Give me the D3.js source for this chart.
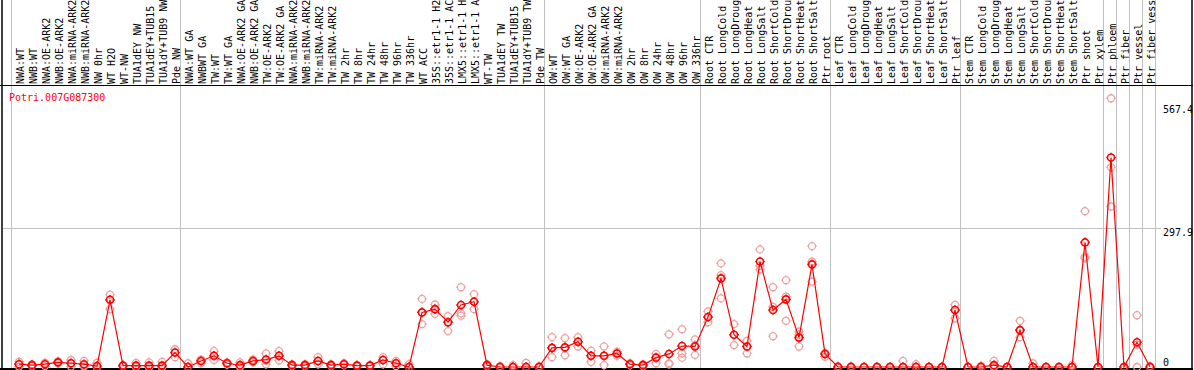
<!DOCTYPE html>
<html><head><meta charset="utf-8">
<script src="https://cdn.jsdelivr.net/npm/d3@7"></script>
<style>
html,body{margin:0;padding:0;background:#fff;}
svg{display:block;}
text{font-family:"DejaVu Sans Mono",monospace;font-size:10px;}
</style></head>
<body>
<svg id="chart" width="1194" height="370"></svg>
<script>
const categories = [
 "NWA:WT","NWB:WT","NWA:OE-ARK2","NWB:OE-ARK2","NWA:miRNA-ARK2","NWB:miRNA-ARK2","NW 0hr","WT H2O","WT-NW","TUA1dEY NW","TUA1dEY+TUB15","TUA1dY+TUB9 NW","Pde NW",
 "NWA:WT GA","NWBWT GA","TW:WT","TW:WT GA","NWA:OE-ARK2 GA","NWB:OE-ARK2 GA","TW:OE-ARK2","TW:OE-ARK2 GA","NWA:miRNA-ARK2","NWB:miRNA-ARK2","TW:miRNA-ARK2","TW:miRNA-ARK2","TW 2hr","TW 8hr","TW 24hr","TW 48hr","TW 96hr","TW 336hr","WT ACC","35S::etr1-1 H2","35S::etr1-1 AC","LMX5::etr1-1 H","LMX5::etr1-1 A","WT-TW","TUA1dEY TW","TUA1dEY+TUB15","TUA1dY+TUB9 TW","Pde TW",
 "OW:WT","OW:WT GA","OW:OE-ARK2","OW:OE-ARK2 GA","OW:miRNA-ARK2","OW:miRNA-ARK2","OW 2hr","OW 8hr","OW 24hr","OW 48hr","OW 96hr","OW 336hr",
 "Root CTR","Root LongCold","Root LongDroug","Root LongHeat","Root LongSalt","Root ShortCold","Root ShortDrou","Root ShortHeat","Root ShortSalt","Ptr root",
 "Leaf CTR","Leaf LongCold","Leaf LongDroug","Leaf LongHeat","Leaf LongSalt","Leaf ShortCold","Leaf ShortDrou","Leaf ShortHeat","Leaf ShortSalt","Ptr leaf",
 "Stem CTR","Stem LongCold","Stem LongDroug","Stem LongHeat","Stem LongSalt","Stem ShortCold","Stem ShortDrou","Stem ShortHeat","Stem ShortSalt","Ptr shoot","Ptr xylem",
 "Ptr phloem","Ptr fiber","Ptr vessel","Ptr fiber vess"
];
const meanValues = [
 6,4,6,10,8,6,2,144,3,3,3,3,31,
 0,13,24,8,4,13,16,24,4,4,13,4,6,3,3,15,8,0,117,124,96,133,140,4,0,0,0,0,
 41,42,54,24,24,29,6,4,20,28,45,44,
 107,190,69,44,226,122,145,63,220,28,
 0,0,0,0,0,0,0,0,0,122,
 0,0,4,0,79,0,0,0,0,267,0,
 449,0,53,0
];
const rep1 = [
 11,6,9,12,15,13,9,155,4,9,10,11,38,
 8,16,34,10,10,16,29,34,6,6,21,6,8,4,4,21,13,6,146,134,109,171,156,6,2,4,9,2,
 64,62,64,35,44,33,8,6,28,70,81,59,
 119,222,92,56,252,171,186,76,259,30,
 2,2,0,0,0,13,6,0,0,133,
 0,3,13,0,99,8,0,0,4,334,0,
 576,0,111,2
];
const rep2 = [
 6,3,6,10,8,4,0,144,3,1,0,0,31,
 0,13,24,8,2,13,14,24,4,4,13,4,6,3,3,15,8,0,117,124,96,115,140,4,0,0,0,0,
 41,42,54,24,24,29,6,4,20,8,29,47,
 107,197,69,44,217,129,151,69,226,28,
 0,0,0,0,0,0,0,0,0,122,
 0,0,2,0,79,0,0,0,0,236,0,
 428,0,48,0
];
const rep3 = [
 1,2,2,8,1,1,0,124,2,0,0,0,21,
 0,8,15,5,0,10,6,14,2,2,6,2,4,2,2,6,2,0,92,114,77,110,124,2,0,0,0,0,
 21,25,44,11,4,24,4,2,8,6,20,26,
 96,147,47,29,209,66,99,44,183,22,
 0,0,0,0,0,0,0,0,0,104,
 0,0,0,0,64,0,0,0,0,233,0,
 344,0,0,0
];
const yTickValues = [0, 297.9, 567.4];
const groupStarts = [0, 13, 41, 53, 63, 73, 84, 85, 86, 87, 88];
const geneLabel = "Potri.007G087300";

const svg = d3.select("#chart");
const W = 1194, H = 370;
const plotTop = 85.5, plotBottom = 369;

const x = d3.scaleBand().domain(d3.range(categories.length)).range([10.5, 10.5 + 13 * categories.length]).paddingInner(0).paddingOuter(0);
const bw = x.bandwidth();
const boundary = k => k < categories.length ? x(k) : x(categories.length - 1) + bw;
const cx = i => x(i) + 8.5;
const y = d3.scaleLinear().domain([0, 567.4]).range([367, 367 - 567.4 * 139 / 297.9]);

// vertical group lines (full height)
svg.append("g").selectAll("line").data(groupStarts).join("line")
  .attr("x1", k => Math.round(boundary(k)) + 0.5).attr("x2", k => Math.round(boundary(k)) + 0.5)
  .attr("y1", 0).attr("y2", plotBottom)
  .attr("stroke", "#c0c0c0").attr("stroke-width", 1);

// horizontal grid at middle tick
svg.append("line")
  .attr("x1", 3).attr("x2", 1161)
  .attr("y1", Math.round(y(297.9)) + 0.5).attr("y2", Math.round(y(297.9)) + 0.5)
  .attr("stroke", "#c0c0c0").attr("stroke-width", 1);

// frame
svg.append("line").attr("x1", 0).attr("x2", 1193).attr("y1", plotTop).attr("y2", plotTop).attr("stroke", "#000").attr("stroke-width", 1);
svg.append("line").attr("x1", 0).attr("x2", 1193).attr("y1", plotBottom).attr("y2", plotBottom).attr("stroke", "#000").attr("stroke-width", 2);
svg.append("line").attr("x1", 2).attr("x2", 2).attr("y1", 0).attr("y2", H).attr("stroke", "#000").attr("stroke-width", 1.5);
svg.append("line").attr("x1", 1192).attr("x2", 1192).attr("y1", 0).attr("y2", H).attr("stroke", "#000").attr("stroke-width", 1.5);

// category labels
svg.append("g").selectAll("text").data(categories).join("text")
  .attr("transform", (d, i) => `translate(${x(i) + 13},84) rotate(-90)`)
  .attr("fill", "#000")
  .text(d => d);

// gene label
svg.append("text").attr("x", 9).attr("y", 100.5).attr("fill", "#ff0000").text(geneLabel);

// marker path: circle with 4 ticks
function marker(r, t) {
  const p = d3.path();
  p.moveTo(r, 0); p.arc(0, 0, r, 0, 2 * Math.PI);
  p.moveTo(0, -r); p.lineTo(0, -r - t);
  p.moveTo(0, r); p.lineTo(0, r + t);
  p.moveTo(-r, 0); p.lineTo(-r - t, 0);
  p.moveTo(r, 0); p.lineTo(r + t, 0);
  return p.toString();
}

// replicate points
const reps = [];
[rep1, rep2, rep3].forEach(arr => arr.forEach((v, i) => { if (v != null) reps.push({ i, v }); }));
svg.append("g").selectAll("path").data(reps).join("path")
  .attr("transform", d => `translate(${cx(d.i)},${y(d.v)})`)
  .attr("d", marker(3.5, 1.3))
  .attr("fill", "none").attr("stroke", "#f0a0a0").attr("stroke-width", 1.3);

// mean line
const line = d3.line().x((d, i) => cx(i)).y(d => y(d));
svg.append("path").datum(meanValues).attr("d", line)
  .attr("fill", "none").attr("stroke", "#ff0000").attr("stroke-width", 1.2);

// mean points
svg.append("g").selectAll("path").data(meanValues).join("path")
  .attr("transform", (d, i) => `translate(${cx(i)},${y(d)})`)
  .attr("d", marker(3.5, 1.3))
  .attr("fill", "none").attr("stroke", "#ff0000").attr("stroke-width", 1.6);

// y axis labels
const axis = d3.axisRight(y).tickValues(yTickValues).tickSize(0).tickPadding(0).tickFormat(d => d === 0 ? "0" : d3.format(".1f")(d));
const gAxis = svg.append("g").attr("transform", "translate(1163,0)").call(axis);
gAxis.select(".domain").remove();
gAxis.selectAll("text")
  .attr("x", 0)
  .attr("font-family", "DejaVu Sans Mono, monospace").attr("font-size", 10).attr("fill", "#000")
  .attr("dy", null)
  .attr("dominant-baseline", "alphabetic")
  .attr("y", d => d === 0 ? -2 : (d === 567.4 ? 10 : 7.5));
</script>
</body></html>
